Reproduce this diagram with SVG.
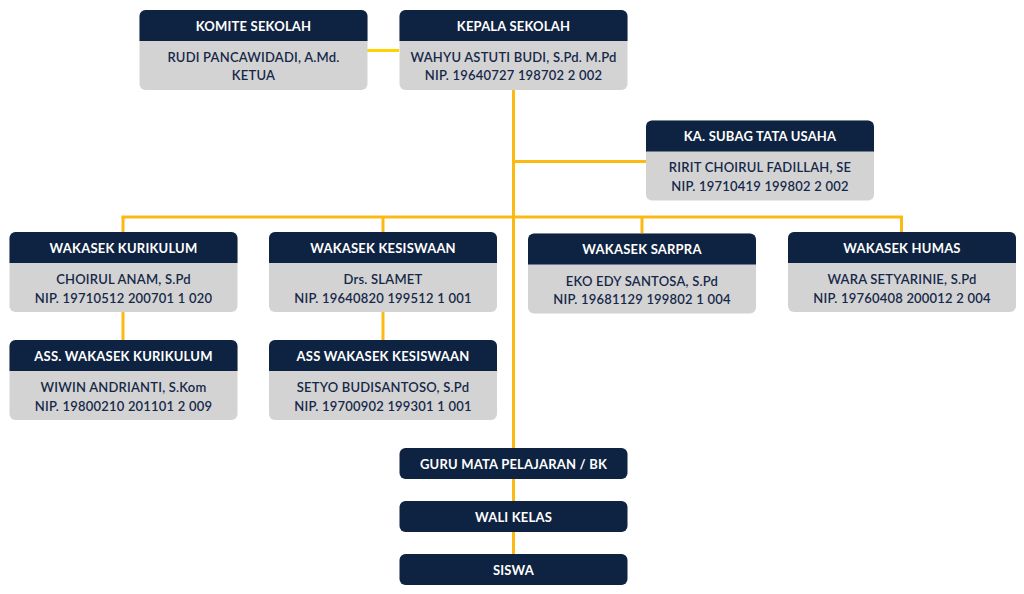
<svg xmlns="http://www.w3.org/2000/svg" width="1024" height="594" viewBox="0 0 1024 594">
<style>
.hd{fill:#0E2341}
.bd{fill:#D3D3D3}
.ht{fill:#FFFFFF;font-family:Lato,"Open Sans",sans-serif;font-weight:700;font-size:13px;text-anchor:middle;dominant-baseline:central;letter-spacing:0.2px}
.bt{fill:#16284A;font-family:Lato,"Open Sans",sans-serif;font-weight:600;font-size:13px;text-anchor:middle;dominant-baseline:central;letter-spacing:0.2px}
.ln{stroke:#FDB913;stroke-width:3;fill:none}
.ly{stroke:#FFD200;stroke-width:3;fill:none}
</style>
<defs>
<clipPath id="c1"><rect x="0" y="0" width="228" height="80" rx="6"/></clipPath>
</defs>
<g id="connectors">
<line class="ly" x1="367" y1="50.5" x2="399" y2="50.5"/>
<line class="ln" x1="513.5" y1="90" x2="513.5" y2="448"/>
<line class="ln" x1="513.5" y1="161.5" x2="646" y2="161.5"/>
<line class="ln" x1="121.5" y1="217" x2="903" y2="217"/>
<line class="ln" x1="123" y1="217" x2="123" y2="232"/>
<line class="ln" x1="383" y1="217" x2="383" y2="232"/>
<line class="ln" x1="642" y1="217" x2="642" y2="233"/>
<line class="ln" x1="901.5" y1="217" x2="901.5" y2="232"/>
<line class="ln" x1="123" y1="312" x2="123" y2="340"/>
<line class="ln" x1="383" y1="312" x2="383" y2="340"/>
<line class="ln" x1="513.5" y1="479" x2="513.5" y2="501"/>
<line class="ln" x1="513.5" y1="532" x2="513.5" y2="554"/>
</g>
<g id="komite" transform="translate(139.5,10)">
<rect class="bd" width="228" height="80" rx="6"/>
<path class="hd" d="M0,31V6A6,6 0 0 1 6,0H222A6,6 0 0 1 228,6V31Z"/>
<text class="ht" x="114" y="15.5">KOMITE SEKOLAH</text>
<text class="bt" x="114" y="46.5">RUDI PANCAWIDADI, A.Md.</text>
<text class="bt" x="114" y="65">KETUA</text>
</g>
<g id="kepala" transform="translate(399.5,10)">
<rect class="bd" width="228" height="80" rx="6"/>
<path class="hd" d="M0,31V6A6,6 0 0 1 6,0H222A6,6 0 0 1 228,6V31Z"/>
<text class="ht" x="114" y="15.5">KEPALA SEKOLAH</text>
<text class="bt" x="114" y="46.5">WAHYU ASTUTI BUDI, S.Pd. M.Pd</text>
<text class="bt" x="114" y="65">NIP. 19640727 198702 2 002</text>
</g>
<g id="tatausaha" transform="translate(646,120.5)">
<rect class="bd" width="228" height="80" rx="6"/>
<path class="hd" d="M0,31V6A6,6 0 0 1 6,0H222A6,6 0 0 1 228,6V31Z"/>
<text class="ht" x="114" y="15.5">KA. SUBAG TATA USAHA</text>
<text class="bt" x="114" y="46.5">RIRIT CHOIRUL FADILLAH, SE</text>
<text class="bt" x="114" y="65">NIP. 19710419 199802 2 002</text>
</g>
<g id="kurikulum" transform="translate(9.5,232)">
<rect class="bd" width="228" height="80" rx="6"/>
<path class="hd" d="M0,31V6A6,6 0 0 1 6,0H222A6,6 0 0 1 228,6V31Z"/>
<text class="ht" x="114" y="15.5">WAKASEK KURIKULUM</text>
<text class="bt" x="114" y="47">CHOIRUL ANAM, S.Pd</text>
<text class="bt" x="114" y="65.5">NIP. 19710512 200701 1 020</text>
</g>
<g id="kesiswaan" transform="translate(269,232)">
<rect class="bd" width="228" height="80" rx="6"/>
<path class="hd" d="M0,31V6A6,6 0 0 1 6,0H222A6,6 0 0 1 228,6V31Z"/>
<text class="ht" x="114" y="15.5">WAKASEK KESISWAAN</text>
<text class="bt" x="114" y="47">Drs. SLAMET</text>
<text class="bt" x="114" y="65.5">NIP. 19640820 199512 1 001</text>
</g>
<g id="sarpra" transform="translate(528,233.5)">
<rect class="bd" width="228" height="80" rx="6"/>
<path class="hd" d="M0,31V6A6,6 0 0 1 6,0H222A6,6 0 0 1 228,6V31Z"/>
<text class="ht" x="114" y="15.5">WAKASEK SARPRA</text>
<text class="bt" x="114" y="47">EKO EDY SANTOSA, S.Pd</text>
<text class="bt" x="114" y="65.5">NIP. 19681129 199802 1 004</text>
</g>
<g id="humas" transform="translate(788,232)">
<rect class="bd" width="228" height="80" rx="6"/>
<path class="hd" d="M0,31V6A6,6 0 0 1 6,0H222A6,6 0 0 1 228,6V31Z"/>
<text class="ht" x="114" y="15.5">WAKASEK HUMAS</text>
<text class="bt" x="114" y="47">WARA SETYARINIE, S.Pd</text>
<text class="bt" x="114" y="65.5">NIP. 19760408 200012 2 004</text>
</g>
<g id="asskurikulum" transform="translate(9.5,340)">
<rect class="bd" width="228" height="80" rx="6"/>
<path class="hd" d="M0,31V6A6,6 0 0 1 6,0H222A6,6 0 0 1 228,6V31Z"/>
<text class="ht" x="114" y="15.5">ASS. WAKASEK KURIKULUM</text>
<text class="bt" x="114" y="47">WIWIN ANDRIANTI, S.Kom</text>
<text class="bt" x="114" y="65.5">NIP. 19800210 201101 2 009</text>
</g>
<g id="asskesiswaan" transform="translate(269,340)">
<rect class="bd" width="228" height="80" rx="6"/>
<path class="hd" d="M0,31V6A6,6 0 0 1 6,0H222A6,6 0 0 1 228,6V31Z"/>
<text class="ht" x="114" y="15.5">ASS WAKASEK KESISWAAN</text>
<text class="bt" x="114" y="47">SETYO BUDISANTOSO, S.Pd</text>
<text class="bt" x="114" y="65.5">NIP. 19700902 199301 1 001</text>
</g>
<g id="guru" transform="translate(399.5,448)">
<rect class="hd" width="228" height="31" rx="6"/>
<text class="ht" x="114" y="15.5">GURU MATA PELAJARAN / BK</text>
</g>
<g id="walikelas" transform="translate(399.5,501)">
<rect class="hd" width="228" height="31" rx="6"/>
<text class="ht" x="114" y="15.5">WALI KELAS</text>
</g>
<g id="siswa" transform="translate(399.5,554)">
<rect class="hd" width="228" height="31" rx="6"/>
<text class="ht" x="114" y="15.5">SISWA</text>
</g>
</svg>
